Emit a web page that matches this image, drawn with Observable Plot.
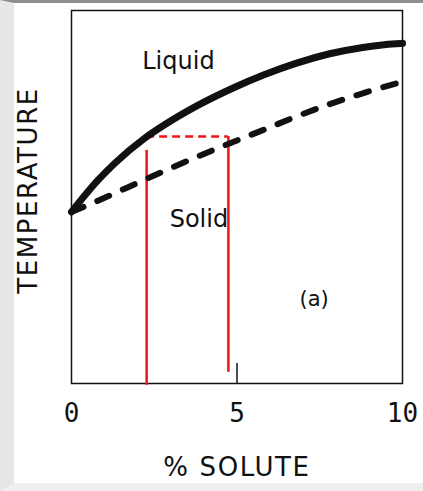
<!DOCTYPE html>
<html>
<head>
<meta charset="utf-8">
<script src="https://cdn.jsdelivr.net/npm/d3@7"></script>
<script src="https://cdn.jsdelivr.net/npm/@observablehq/plot@0.6"></script>
<style>
  html, body { margin: 0; padding: 0; background: #fff; }
  #page {
    position: relative;
    width: 409px;
    height: 480px;
    background: #fff;
    border-top: 3px solid #8e8e8e;
    border-left: 14px solid #e6e6e6;
    border-bottom: 8px solid #efefef;
  }
  #page svg { display: block; }
  #page svg .axis-title { letter-spacing: 1.6px; }
</style>
</head>
<body>
<div id="page"></div>
<script>
// Liquidus (solid curve): % solute vs temperature (arbitrary units)
const liquidusSolute = [0, 0.8, 1.3, 2.2, 2.8, 3.8, 4.9, 5.8, 6.8, 7.8, 8.8, 9.8, 10];
const liquidusTemp   = [46, 54.5, 59, 65.7, 69.3, 74.5, 79.3, 82.7, 85.9, 88.4, 90.1, 91.1, 91.2];

// Solidus (dashed curve)
const solidusSolute = [0, 0.8, 2.2, 3.8, 4.9, 5.8, 6.8, 7.8, 8.8, 9.8, 10];
const solidusTemp   = [46, 49, 54.6, 60.8, 64.8, 68.0, 71.6, 74.9, 77.8, 80.4, 80.9];

// Red construction lines: two compositions joined at one temperature
const cutSolute = [2.27, 4.74];
const cutBottom = [-0.5, 3];
const cutTop    = [62.5, 66.2];
const tieTemp   = 66.2;

// Axis ticks and labels
const xTicks = [0, 5, 10];
const xMarkTick = [5];
const xLabel = "% SOLUTE";
const yLabel = "TEMPERATURE";

// Region labels
const regionNames  = ["Liquid", "Solid"];
const regionSolute = [3.23, 3.85];
const regionTemp   = [86.3, 44.0];
const panelTag = "(a)";
const panelSolute = 7.33;
const panelTemp = 22.5;

const liquidus = liquidusSolute.map((x, i) => ({x, y: liquidusTemp[i]}));
const solidus  = solidusSolute.map((x, i) => ({x, y: solidusTemp[i]}));
const cuts = cutSolute.map((x, i) => ({x, y1: cutBottom[i], y2: cutTop[i]}));
const tie = [{y: tieTemp, x1: cutSolute[0], x2: cutSolute[1]}];
const regions = regionNames.map((t, i) => ({t, x: regionSolute[i], y: regionTemp[i]}));

const red = "#f01414";
const ink = "#111";

const chart = Plot.plot({
  width: 409,
  height: 480,
  marginLeft: 57,
  marginRight: 21,
  marginTop: 7,
  marginBottom: 100,
  style: { background: "transparent", overflow: "visible", color: ink },
  x: { domain: [0, 10], label: null },
  y: { domain: [0, 100], axis: null },
  marks: [
    Plot.frame({ stroke: ink, strokeWidth: 1.5 }),
    Plot.ruleX(xMarkTick, { stroke: ink, strokeWidth: 1.5, insetTop: 353 }),
    Plot.axisX({
      ticks: xTicks, tickSize: 0, tickPadding: 20, label: null,
      tickFormat: d => String(d), fontSize: 26, fontFamily: "DejaVu Sans Mono", fill: ink
    }),
    Plot.text([xLabel], {
      text: d => d, frameAnchor: "bottom", textAnchor: "middle", dy: 92,
      fontSize: 26, fontFamily: "DejaVu Sans", fill: ink, className: "axis-title"
    }),
    Plot.text([yLabel], {
      text: d => d, frameAnchor: "left", textAnchor: "middle", rotate: -90, dx: -43, dy: -6.5,
      fontSize: 26, fontFamily: "DejaVu Sans", fill: ink, className: "axis-title"
    }),
    // construction lines
    Plot.ruleX(cuts, { x: "x", y1: "y1", y2: "y2", stroke: red, strokeWidth: 2.5 }),
    Plot.ruleY(tie, { y: "y", x1: "x1", x2: "x2", stroke: red, strokeWidth: 2.5, strokeDasharray: "8,5" }),
    // phase boundaries
    Plot.line(solidus, {
      x: "x", y: "y", curve: "monotone-x", stroke: ink, strokeWidth: 6,
      strokeDasharray: "13,15", strokeLinecap: "round"
    }),
    Plot.line(liquidus, {
      x: "x", y: "y", curve: "monotone-x", stroke: ink, strokeWidth: 7, strokeLinecap: "round"
    }),
    Plot.text(regions, {
      x: "x", y: "y", text: "t", fontSize: 24, fontFamily: "DejaVu Sans", fill: ink
    }),
    Plot.text([panelTag], {
      x: () => panelSolute, y: () => panelTemp, text: d => d,
      fontSize: 21, fontFamily: "DejaVu Sans", fill: ink
    })
  ]
});

document.getElementById("page").appendChild(chart);
</script>
</body>
</html>
